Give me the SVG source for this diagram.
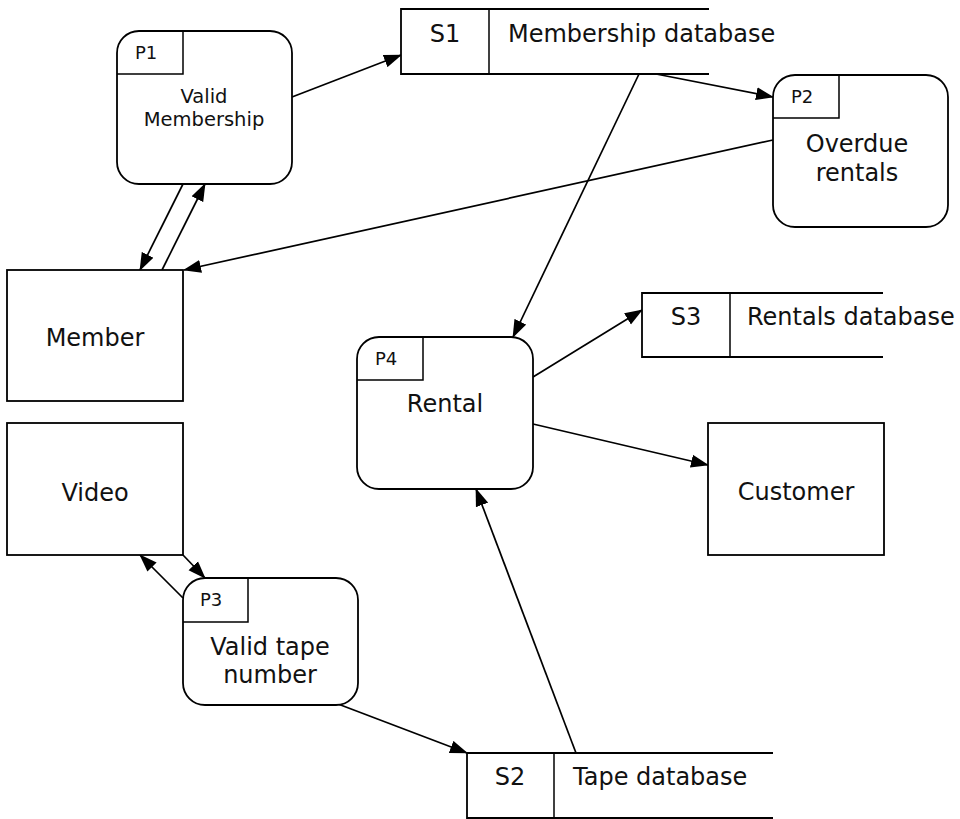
<svg xmlns="http://www.w3.org/2000/svg" width="960" height="819" viewBox="0 0 960 819">
<defs>
<marker id="arr" markerWidth="18" markerHeight="14" refX="17" refY="7" orient="auto" markerUnits="userSpaceOnUse">
<path d="M0,0.5 L18,7 L0,13.5 Z" fill="#000"/>
</marker>
<style>
.shape{fill:#fff;stroke:#000;stroke-width:1.8}
.thin{fill:none;stroke:#000;stroke-width:1.5}
.edge{fill:none;stroke:#000;stroke-width:1.7;marker-end:url(#arr)}
text{font-family:"DejaVu Sans","Liberation Sans",sans-serif;fill:#111}
.big{font-size:24px}
.mid{font-size:19.5px}
.lbl{font-size:18px}
.c{text-anchor:middle}
</style>
</defs>
<rect width="960" height="819" fill="#fff"/>

<g id="connectors">
<line class="edge" x1="292" y1="97" x2="401" y2="55"/>
<line class="edge" x1="656" y1="74" x2="773" y2="97"/>
<line class="edge" x1="639" y1="74" x2="513" y2="337"/>
<line class="edge" x1="773" y1="140" x2="184" y2="270"/>
<line class="edge" x1="183" y1="184" x2="140" y2="270"/>
<line class="edge" x1="162" y1="270" x2="205" y2="184"/>
<line class="edge" x1="533" y1="377" x2="642" y2="310"/>
<line class="edge" x1="533" y1="424" x2="708" y2="465"/>
<line class="edge" x1="183" y1="555" x2="205" y2="578"/>
<line class="edge" x1="183" y1="598" x2="140" y2="555"/>
<line class="edge" x1="338" y1="704" x2="467" y2="753"/>
<line class="edge" x1="576" y1="753" x2="476" y2="489"/>
</g>

<g id="P1">
<rect class="shape" x="117" y="31" width="175" height="153" rx="22"/>
<path class="thin" d="M117,74 H183 V31"/>
<text class="lbl" x="135" y="59">P1</text>
<text class="mid c" x="204" y="103">Valid</text>
<text class="mid c" x="204" y="126">Membership</text>
</g>

<g id="S1">
<path class="shape" d="M709,9 H401 V74 H709"/>
<line class="thin" x1="489" y1="9" x2="489" y2="74"/>
<text class="big c" x="445" y="42">S1</text>
<text class="big" x="508" y="42">Membership database</text>
</g>

<g id="P2">
<rect class="shape" x="773" y="75" width="175" height="152" rx="22"/>
<path class="thin" d="M773,118 H839 V75"/>
<text class="lbl" x="791" y="103">P2</text>
<text class="big c" x="857" y="152">Overdue</text>
<text class="big c" x="857" y="181">rentals</text>
</g>

<g id="Member">
<rect class="shape" x="7" y="270" width="176" height="131"/>
<text class="big c" x="95" y="346">Member</text>
</g>

<g id="P4">
<rect class="shape" x="357" y="337" width="176" height="152" rx="22"/>
<path class="thin" d="M357,380 H423 V337"/>
<text class="lbl" x="375" y="365">P4</text>
<text class="big c" x="445" y="412">Rental</text>
</g>

<g id="S3">
<path class="shape" d="M883,293 H642 V357 H883"/>
<line class="thin" x1="730" y1="293" x2="730" y2="357"/>
<text class="big c" x="686" y="325">S3</text>
<text class="big" x="747" y="325">Rentals database</text>
</g>

<g id="Customer">
<rect class="shape" x="708" y="423" width="176" height="132"/>
<text class="big c" x="796" y="500">Customer</text>
</g>

<g id="Video">
<rect class="shape" x="7" y="423" width="176" height="132"/>
<text class="big c" x="95" y="501">Video</text>
</g>

<g id="P3">
<rect class="shape" x="183" y="578" width="175" height="127" rx="22"/>
<path class="thin" d="M183,622 H248 V578"/>
<text class="lbl" x="200" y="606">P3</text>
<text class="big c" x="270" y="655">Valid tape</text>
<text class="big c" x="270" y="683">number</text>
</g>

<g id="S2">
<path class="shape" d="M773,753 H467 V818 H773"/>
<line class="thin" x1="554" y1="753" x2="554" y2="818"/>
<text class="big c" x="510" y="785">S2</text>
<text class="big" x="573" y="785">Tape database</text>
</g>
</svg>
